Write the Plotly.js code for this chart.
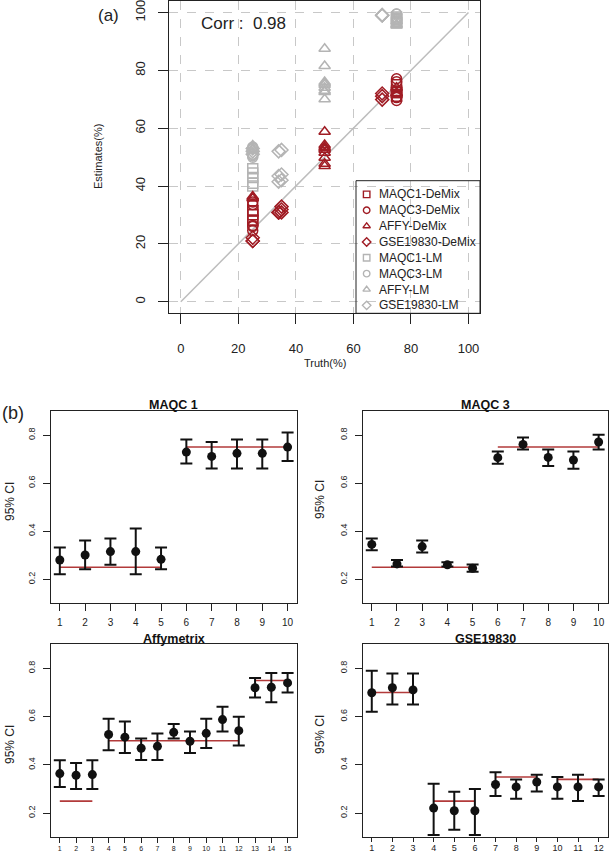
<!DOCTYPE html>
<html>
<head>
<meta charset="utf-8">
<script src="https://cdn.plot.ly/plotly-3.0.1.min.js"></script>
<style>html,body{margin:0;padding:0;background:#fff;}#chart{width:609px;height:853px;}</style>
</head>
<body>
<div id="chart"></div>
<script>
// ---------- Panel (b) data: point estimates, 95% CI bounds, true proportions ----------
const maqc1Est   = [0.280,0.301,0.315,0.315,0.283,0.729,0.711,0.724,0.724,0.750];
const maqc1Lo    = [0.221,0.242,0.260,0.221,0.242,0.682,0.661,0.661,0.661,0.692];
const maqc1Hi    = [0.332,0.361,0.370,0.411,0.332,0.781,0.771,0.781,0.781,0.811];
const maqc1Truth = [0.25,0.25,0.25,0.25,0.25,0.75,0.75,0.75,0.75,0.75];

const maqc3Est   = [0.345,0.264,0.336,0.260,0.246,0.706,0.761,0.707,0.696,0.771];
const maqc3Lo    = [0.321,0.253,0.311,0.253,0.231,0.681,0.740,0.671,0.660,0.740];
const maqc3Hi    = [0.370,0.280,0.361,0.271,0.261,0.731,0.790,0.740,0.731,0.801];
const maqc3Truth = [0.25,0.25,0.25,0.25,0.25,0.75,0.75,0.75,0.75,0.75];

const affyEst    = [0.364,0.357,0.360,0.526,0.515,0.469,0.477,0.535,0.498,0.531,0.588,0.542,0.720,0.722,0.740];
const affyLo     = [0.309,0.300,0.300,0.461,0.449,0.420,0.420,0.510,0.449,0.470,0.539,0.480,0.679,0.660,0.700];
const affyHi     = [0.419,0.408,0.419,0.591,0.580,0.510,0.530,0.570,0.539,0.591,0.641,0.600,0.760,0.781,0.781];
const affyTruth  = [0.25,0.25,0.25,0.5,0.5,0.5,0.5,0.5,0.5,0.5,0.5,0.5,0.75,0.75,0.75];

const gseEst     = [0.699,0.720,0.711,0.221,0.210,0.210,0.319,0.309,0.329,0.309,0.309,0.309];
const gseLo      = [0.620,0.650,0.650,0.110,0.131,0.110,0.271,0.260,0.290,0.260,0.250,0.271];
const gseHi      = [0.790,0.779,0.779,0.322,0.289,0.300,0.370,0.340,0.359,0.350,0.359,0.340];
const gseTruth   = [0.70,0.70,0.70,0.25,0.25,0.25,0.35,0.35,0.35,0.34,0.34,0.34];

// ---------- Panel (a): LM estimates (%) for the same samples ----------
const maqc1LM = [41.0,46.0,43.0,44.5,40.0,96.5,97.0,97.5,98.0,98.5];
const maqc3LM = [53.5,50.5,53.0,51.0,50.0,98.0,99.5,97.5,97.0,99.5];
const affyLM  = [53.0,54.0,52.5,87.5,81.5,76.0,75.5,75.0,74.0,73.0,72.5,70.0,95.5,96.0,97.0];
const gseLM   = [99.0,99.0,99.2,52.0,51.0,53.0,52.5,44.0,42.0,52.0,43.5,41.5];

const corrLabel = "Corr :  0.98";
const refLine = [0, 100];
const pctTicks = [0, 20, 40, 60, 80, 100];
const ciTicks = [0.2, 0.4, 0.6, 0.8];

const legendLabels = ["MAQC1-DeMix","MAQC3-DeMix","AFFY-DeMix","GSE19830-DeMix","MAQC1-LM","MAQC3-LM","AFFY-LM","GSE19830-LM"];

// ---------- styles ----------
const FONT = "Liberation Sans, Arial, Helvetica, sans-serif";
const RED = "#a01c24";
const GREY = "#b4b4b4";
const TRUE_RED = "#b23a3a";
const symbols = ["square-open","circle-open","triangle-up-open","diamond-open"];

const pct = a => a.map(v => v * 100);
const idx = a => a.map((_, i) => i + 1);

const traces = [];

// reference diagonal
traces.push({x: refLine, y: refLine, xaxis:'x', yaxis:'y', mode:'lines',
  line:{color:'#bdbdbd', width:1.5}, showlegend:false, hoverinfo:'skip'});

const sets = [
  {truth: maqc1Truth, est: maqc1Est, lm: maqc1LM},
  {truth: maqc3Truth, est: maqc3Est, lm: maqc3LM},
  {truth: affyTruth,  est: affyEst,  lm: affyLM},
  {truth: gseTruth,   est: gseEst,   lm: gseLM}
];
sets.forEach((s, k) => {
  traces.push({x: pct(s.truth), y: s.lm, xaxis:'x', yaxis:'y', mode:'markers',
    marker:{symbol: symbols[k], size:10, color:GREY, line:{color:GREY, width:1.5}},
    showlegend:false});
});
sets.forEach((s, k) => {
  traces.push({x: pct(s.truth), y: pct(s.est), xaxis:'x', yaxis:'y', mode:'markers',
    marker:{symbol: symbols[k], size:10, color:RED, line:{color:RED, width:1.5}},
    showlegend:false});
});

// manual legend (inside its own small axes)
traces.push({
  x: legendLabels.map(() => 0.086),
  y: legendLabels.map((_, i) => i),
  xaxis:'x6', yaxis:'y6', mode:'markers', showlegend:false, hoverinfo:'skip',
  marker:{
    symbol: legendLabels.map((_, i) => symbols[i % 4]),
    size: 6.5,
    color: legendLabels.map((_, i) => i < 4 ? RED : GREY),
    line:{color: legendLabels.map((_, i) => i < 4 ? RED : GREY), width:1.4}
  }
});

// panel (b)
function truthSegments(truth) {
  const xs = [], ys = [];
  let start = 0;
  for (let i = 1; i <= truth.length; i++) {
    if (i === truth.length || truth[i] !== truth[start]) {
      xs.push(start + 1, i, null);
      ys.push(truth[start], truth[start], null);
      start = i;
    }
  }
  return {xs, ys};
}
const panels = [
  {est: maqc1Est, lo: maqc1Lo, hi: maqc1Hi, truth: maqc1Truth, ax: '2'},
  {est: maqc3Est, lo: maqc3Lo, hi: maqc3Hi, truth: maqc3Truth, ax: '3'},
  {est: affyEst,  lo: affyLo,  hi: affyHi,  truth: affyTruth,  ax: '4'},
  {est: gseEst,   lo: gseLo,   hi: gseHi,   truth: gseTruth,   ax: '5'}
];
panels.forEach(p => {
  const seg = truthSegments(p.truth);
  traces.push({x: seg.xs, y: seg.ys, xaxis:'x'+p.ax, yaxis:'y'+p.ax, mode:'lines',
    line:{color:TRUE_RED, width:1.6}, showlegend:false, connectgaps:false, hoverinfo:'skip'});
  traces.push({x: idx(p.est), y: p.est, xaxis:'x'+p.ax, yaxis:'y'+p.ax, mode:'markers',
    marker:{symbol:'circle', size:9, color:'#111'},
    error_y:{type:'data', symmetric:false,
      array: p.hi.map((h, i) => h - p.est[i]),
      arrayminus: p.lo.map((l, i) => p.est[i] - l),
      color:'#111', thickness:2, width:6},
    showlegend:false});
});

// ---------- layout ----------
const H = 853, W = 609;
const px = v => v / W, py = v => 1 - v / H;

function boxAxis(extra) {
  return Object.assign({
    showline:true, mirror:true, linecolor:'#222', linewidth:1,
    ticks:'outside', ticklen:7, tickwidth:1, tickcolor:'#222',
    showgrid:false, zeroline:false, fixedrange:true, ticklabeloverflow:'allow',
    tickfont:{family:FONT, size:10, color:'#222'}
  }, extra);
}

const layout = {
  width: W, height: H,
  margin:{l:0, r:0, t:0, b:0},
  paper_bgcolor:'#fff', plot_bgcolor:'rgba(0,0,0,0)',
  font:{family:FONT, color:'#222'},
  showlegend:false,
  xaxis: boxAxis({domain:[px(169.3), px(480)], range:[-4,104], anchor:'y',
    tickvals:pctTicks, ticklen:10, ticklabelstandoff:13, showgrid:true, gridcolor:'#c8c8c8', griddash:'dash', gridwidth:1,
    tickfont:{family:FONT, size:13, color:'#222'}}),
  yaxis: boxAxis({domain:[py(313.3), py(1)], range:[-4,104], anchor:'x',
    tickvals:pctTicks, ticklen:10, tickangle:-90, ticklabelstandoff:8, showgrid:true, gridcolor:'#c8c8c8', griddash:'dash', gridwidth:1,
    tickfont:{family:FONT, size:13, color:'#222'}}),

  xaxis6: {domain:[px(356), px(480)], range:[0,1], anchor:'y6', visible:false, fixedrange:true},
  yaxis6: {domain:[py(313.3), py(180.7)], range:[7.5,-0.86], anchor:'x6', visible:false, fixedrange:true},

  xaxis2: boxAxis({domain:[px(50.7), px(296.7)], range:[0.64,10.36], anchor:'y2', tickvals:idx(maqc1Est), ticklabelstandoff:3}),
  yaxis2: boxAxis({domain:[py(603.3), py(411)], range:[0.1,0.9], anchor:'x2', tickvals:ciTicks, tickangle:-90, ticklabelstandoff:4,
    tickfont:{family:FONT, size:9, color:'#222'}}),
  xaxis3: boxAxis({domain:[px(362.7), px(607.7)], range:[0.64,10.36], anchor:'y3', tickvals:idx(maqc3Est), ticklabelstandoff:3}),
  yaxis3: boxAxis({domain:[py(603.3), py(411)], range:[0.1,0.9], anchor:'x3', tickvals:ciTicks, tickangle:-90, ticklabelstandoff:4,
    tickfont:{family:FONT, size:9, color:'#222'}}),
  xaxis4: boxAxis({domain:[px(50.7), px(296.7)], range:[0.44,15.56], anchor:'y4', tickvals:idx(affyEst), ticklen:5,
    ticklabelstandoff:-1, tickfont:{family:FONT, size:7, color:'#222'}}),
  yaxis4: boxAxis({domain:[py(837.3), py(644.3)], range:[0.1,0.9], anchor:'x4', tickvals:ciTicks, tickangle:-90, ticklabelstandoff:4,
    tickfont:{family:FONT, size:9, color:'#222'}}),
  xaxis5: boxAxis({domain:[px(362.7), px(607.7)], range:[0.56,12.44], anchor:'y5', tickvals:idx(gseEst), ticklen:4,
    ticklabelstandoff:-2, tickfont:{family:FONT, size:9, color:'#222'}}),
  yaxis5: boxAxis({domain:[py(837.3), py(644.3)], range:[0.1,0.9], anchor:'x5', tickvals:ciTicks, tickangle:-90, ticklabelstandoff:4,
    tickfont:{family:FONT, size:9, color:'#222'}}),

  shapes: [
    {type:'rect', xref:'x6 domain', yref:'y6 domain', x0:0, x1:1, y0:0, y1:1,
     line:{color:'#222', width:1}, fillcolor:'rgba(0,0,0,0)'}
  ],
  annotations: []
};

const A = layout.annotations;
function note(x, y, text, size, extra) {
  A.push(Object.assign({xref:'paper', yref:'paper', x:px(x), y:py(y), xanchor:'center', yanchor:'middle',
    text:text, showarrow:false, borderpad:0, font:{family:FONT, size:size, color:'#222'}}, extra || {}));
}
// panel (a) text
A.push({xref:'x', yref:'y', x:6.6, y:96.3, xanchor:'left', yanchor:'middle', text:corrLabel,
  showarrow:false, borderpad:0, font:{family:FONT, size:17, color:'#222'}});
note(108, 16, '(a)', 17);
note(98, 157, 'Estimates(%)', 11, {textangle:-90});
note(325, 363, 'Truth(%)', 11);
legendLabels.forEach((t, i) => {
  A.push({xref:'x6', yref:'y6', x:0.177, y:i, xanchor:'left', yanchor:'middle', text:t, showarrow:false,
    borderpad:0, font:{family:FONT, size:12, color:'#222'}});
});
// panel (b) text
note(13, 413, '(b)', 18);
[['MAQC 1', 173.7, 405], ['MAQC 3', 485.2, 405], ['Affymetrix', 173.7, 639], ['GSE19830', 485.2, 639]].forEach(t => {
  note(t[1], t[2], '<b>'+t[0]+'</b>', 12.5, {font:{family:FONT, size:12.5, color:'#111'}});
});
[[10, 502], [320, 500], [10, 745], [320, 735]].forEach(t => {
  note(t[0], t[1], '95% CI', 12, {textangle:-90});
});

Plotly.newPlot('chart', traces, layout, {staticPlot:true, displayModeBar:false});
</script>
</body>
</html>
